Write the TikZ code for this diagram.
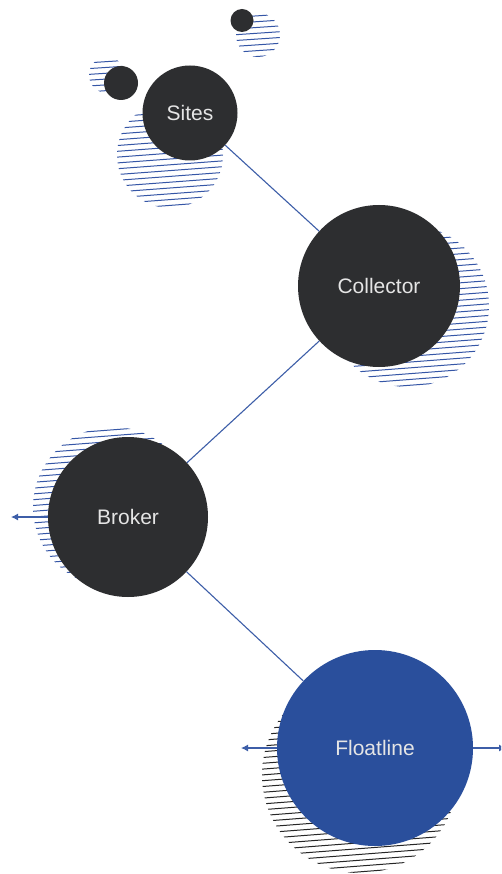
\documentclass[tikz,border=0pt]{standalone}
\usepackage{fontspec}
\setmainfont{Liberation Sans}
\usetikzlibrary{arrows.meta}
\definecolor{dark}{HTML}{2D2E30}
\definecolor{fblue}{HTML}{2A4F9C}
\definecolor{lblue}{HTML}{3D5EA8}
\definecolor{hblue}{HTML}{3556A6}
\tikzset{
  ball/.style={circle, fill=dark, draw=none, text=white!90!black, font=\fontsize{21}{24}\selectfont, inner sep=0pt},
  dot/.style={circle, fill=dark, draw=none, inner sep=0pt},
  link/.style={draw=lblue, line width=1.1pt},
  arr/.style={link, -{Latex[length=7pt,width=7pt]}},
  hatchline/.style={line width=1pt},
}
\newcommand\hatchc[4]{%
  \begin{scope}
    \clip (#1,#2) circle[radius=#3pt];
    \foreach \i in {0,...,40}{
      \draw[hatchline, #4] (#1-#3-4, #2-112+5.8*\i+0.08*#3) -- (#1+#3+4, #2-112+5.8*\i-0.08*#3);
    }
  \end{scope}}
\begin{document}
\begin{tikzpicture}[x=1pt,y=-1pt]
  \clip (0,0) rectangle (501,874);
  \fill[white] (0,0) rectangle (501,874);
  % hatches
  \hatchc{258}{35}{22}{hblue}
  \hatchc{107}{75}{18}{hblue}
  \hatchc{170}{155}{53}{hblue}
  \hatchc{408}{306}{81}{hblue}
  \hatchc{113}{507}{80}{hblue}
  \hatchc{360}{775}{98}{black!85}
  % nodes
  \node[dot, minimum size=23pt] (top) at (242,20.5) {};
  \node[dot, minimum size=34pt] (left) at (121,83) {};
  \node[ball, minimum size=95pt] (sites) at (190,113) {Sites};
  \node[ball, minimum size=162pt] (collector) at (379,286) {Collector};
  \node[ball, minimum size=160pt] (broker) at (128,517) {Broker};
  \node[ball, fill=fblue, minimum size=196pt] (float) at (375,748) {Floatline};
  \coordinate (bout) at (11,517);
  \coordinate (fout) at (241,748);
  \coordinate (rout) at (506,748);
  % connectors
  \draw[link] (sites) -- (collector);
  \draw[link] (collector) -- (broker);
  \draw[link] (broker) -- (float);
  \draw[arr] (broker.west) -- (bout);
  \draw[arr] (float.west) -- (fout);
  \draw[arr] (float.east) -- (rout);
\end{tikzpicture}
\end{document}
